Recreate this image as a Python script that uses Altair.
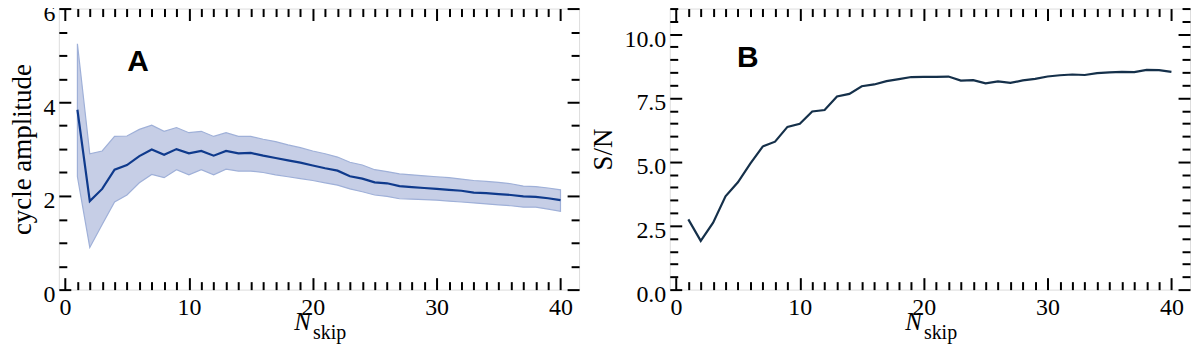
import altair as alt
import pandas as pd

# ---- data ----
n_skip = list(range(1, 41))
amp_mid = [3.84, 1.89, 2.15, 2.56, 2.66, 2.85, 2.99, 2.88, 3.00, 2.91,
           2.96, 2.86, 2.96, 2.91, 2.92, 2.86, 2.81, 2.76, 2.71, 2.65,
           2.59, 2.54, 2.42, 2.37, 2.29, 2.27, 2.21, 2.19, 2.17, 2.15,
           2.13, 2.11, 2.07, 2.06, 2.04, 2.02, 1.99, 1.98, 1.95, 1.91]
amp_hi = [5.25, 2.90, 2.96, 3.27, 3.28, 3.42, 3.51, 3.38, 3.46, 3.35,
          3.38, 3.27, 3.35, 3.27, 3.27, 3.21, 3.16, 3.09, 3.03, 2.96,
          2.90, 2.83, 2.72, 2.66, 2.56, 2.52, 2.47, 2.45, 2.43, 2.41,
          2.39, 2.36, 2.33, 2.31, 2.29, 2.26, 2.21, 2.20, 2.17, 2.13]
amp_lo = [2.41, 0.90, 1.39, 1.87, 2.02, 2.28, 2.46, 2.39, 2.56, 2.45,
          2.56, 2.45, 2.57, 2.53, 2.53, 2.50, 2.45, 2.41, 2.37, 2.33,
          2.28, 2.23, 2.15, 2.09, 2.02, 1.99, 1.94, 1.93, 1.92, 1.91,
          1.89, 1.87, 1.85, 1.83, 1.81, 1.79, 1.76, 1.76, 1.72, 1.67]
snr = [2.75, 1.91, 2.62, 3.65, 4.20, 4.93, 5.60, 5.79, 6.37, 6.49,
       6.97, 7.03, 7.56, 7.66, 7.96, 8.03, 8.16, 8.24, 8.32, 8.33,
       8.33, 8.34, 8.18, 8.20, 8.07, 8.15, 8.09, 8.19, 8.25, 8.34,
       8.39, 8.42, 8.40, 8.47, 8.50, 8.52, 8.51, 8.60, 8.59, 8.52]

x_major = [0, 10, 20, 30, 40]
x_minor = [v for v in range(0, 41) if v % 10 != 0]
yA_major = [0, 2, 4, 6]
yA_minor = [i * 0.5 for i in range(13) if (i * 0.5) % 2 != 0]
yB_major = [0, 2.5, 5, 7.5, 10]
yB_minor = [i * 0.5 for i in range(23) if (i * 0.5) % 2.5 != 0]

W, H = 522, 282
SERIF = "Liberation Serif"
SANS = "Liberation Sans"
MAJ, MIN = 12, 8

dfA = pd.DataFrame({"n": n_skip, "v": amp_mid, "lo": amp_lo, "hi": amp_hi})
dfB = pd.DataFrame({"n": n_skip, "v": snr})
letterA = pd.DataFrame({"n": [5.9], "v": [4.86], "t": ["A"]})
letterB = pd.DataFrame({"n": [5.8], "v": [9.05], "t": ["B"]})
sub_df = pd.DataFrame({"t": ["skip"]})

xscale = alt.Scale(domain=[-0.5, 41.5], nice=False, zero=False)


def label_x_axis():
    return alt.Axis(values=x_major, format="d", ticks=False, tickSize=0, domain=False,
                    grid=False, labelFont=SERIF, labelFontSize=24, labelColor="black",
                    labelPadding=6, labelFlush=False, title="N", titleFont=SERIF,
                    titleFontSize=25, titleFontStyle="italic", titleFontWeight="normal",
                    titleColor="black", titleX=244, titleY=40, titleAlign="center",
                    titleBaseline="alphabetic")


def label_y_axis(values, fmt, title):
    return alt.Axis(values=values, format=fmt, ticks=False, tickSize=0, domain=False,
                    grid=False, labelFont=SERIF, labelFontSize=24, labelColor="black",
                    labelPadding=4, labelOffset=5, labelFlush=False, title=title,
                    titleFont=SERIF, titleFontSize=27, titleFontWeight="normal",
                    titleColor="black", titlePadding=6)


def tick_axis(orient, offset, values, size):
    return alt.Axis(orient=orient, offset=offset, values=values, labels=False,
                    domain=False, grid=False, title="", ticks=True, tickColor="black",
                    tickWidth=2, tickSize=size, zindex=2)


def panel(df, letter_df, yscale, y_major, y_minor, first_layer, line_color):
    l1 = first_layer
    # visible line + inward major ticks on bottom and left edges
    l2 = alt.Chart(df).mark_line(color=line_color, strokeWidth=2.2).encode(
        x=alt.X("n:Q", scale=xscale, axis=tick_axis("top", -H, x_major, MAJ)),
        y=alt.Y("v:Q", scale=yscale, axis=tick_axis("right", -W, y_major, MAJ)),
    )
    # panel letter + inward major ticks on top and right edges
    l3 = alt.Chart(letter_df).mark_text(font=SANS, fontSize=30, fontWeight="bold",
                                        color="black").encode(
        x=alt.X("n:Q", scale=xscale, axis=tick_axis("bottom", -H, x_major, MAJ)),
        y=alt.Y("v:Q", scale=yscale, axis=tick_axis("left", -W, y_major, MAJ)),
        text="t:N",
    )
    # invisible copies carrying the minor ticks
    l4 = alt.Chart(df).mark_line(opacity=0).encode(
        x=alt.X("n:Q", scale=xscale, axis=tick_axis("top", -H, x_minor, MIN)),
        y=alt.Y("v:Q", scale=yscale, axis=tick_axis("right", -W, y_minor, MIN)),
    )
    l5 = alt.Chart(df).mark_line(opacity=0).encode(
        x=alt.X("n:Q", scale=xscale, axis=tick_axis("bottom", -H, x_minor, MIN)),
        y=alt.Y("v:Q", scale=yscale, axis=tick_axis("left", -W, y_minor, MIN)),
    )
    # subscript of the x title
    l6 = alt.Chart(sub_df).mark_text(font=SERIF, fontSize=20, align="left",
                                     baseline="alphabetic", color="black").encode(
        x=alt.value(255), y=alt.value(332), text="t:N")
    return alt.layer(l1, l2, l3, l4, l5, l6).resolve_axis(
        x="independent", y="independent").properties(width=W, height=H)


yscaleA = alt.Scale(domain=[0, 6], nice=False, zero=False)
yscaleB = alt.Scale(domain=[0, 11], nice=False, zero=False)

bandA = alt.Chart(dfA).mark_area(color="#c6cee6", opacity=1, stroke="#9fb0d8",
                                 strokeWidth=1.2).encode(
    x=alt.X("n:Q", scale=xscale, axis=label_x_axis()),
    y=alt.Y("lo:Q", scale=yscaleA, axis=label_y_axis(yA_major, "d", "cycle amplitude")),
    y2=alt.Y2("hi:Q"),
)
ghostB = alt.Chart(dfB).mark_line(opacity=0).encode(
    x=alt.X("n:Q", scale=xscale, axis=label_x_axis()),
    y=alt.Y("v:Q", scale=yscaleB, axis=label_y_axis(yB_major, ".1f", "S/N")),
)

pA = panel(dfA, letterA, yscaleA, yA_major, yA_minor, bandA, "#0f3a8c")
pB = panel(dfB, letterB, yscaleB, yB_major, yB_minor, ghostB, "#15304a")

chart = alt.hconcat(pA, pB, spacing=8).properties(
    padding={"left": 0, "top": -8, "right": 0, "bottom": 0}
).configure_view(stroke="black", strokeWidth=2).configure(background="white")

chart.save("out.html", embed_options={"renderer": "svg", "actions": False})
